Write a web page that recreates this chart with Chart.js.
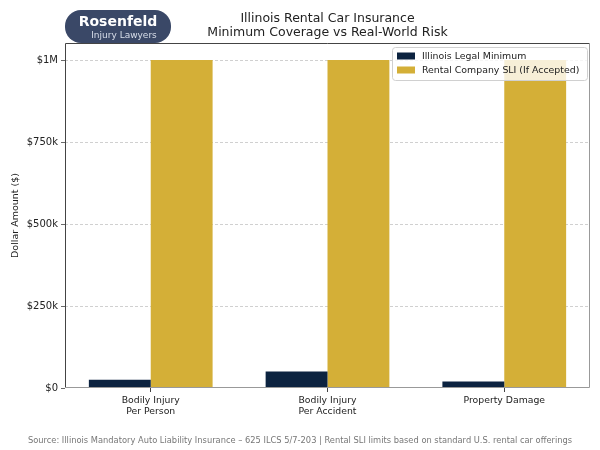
<!DOCTYPE html>
<html>
<head>
<meta charset="utf-8">
<script src="https://cdn.jsdelivr.net/npm/chart.js@4"></script>
<style>
  html, body { margin: 0; padding: 0; background: #fff; }
  #wrap { width: 600px; height: 450px; position: relative; }
</style>
</head>
<body>
<div id="wrap"><canvas id="c" width="600" height="450"></canvas></div>
<script>
// ---- data ----
const categories = ['Bodily Injury\nPer Person', 'Bodily Injury\nPer Accident', 'Property Damage'];
const legalMinimum = [25000, 50000, 20000];
const rentalSLI = [1000000, 1000000, 1000000];
const seriesNames = ['Illinois Legal Minimum', 'Rental Company SLI (If Accepted)'];
const yTickValues = [0, 250000, 500000, 750000, 1000000];
const yTickLabels = ['$0', '$250k', '$500k', '$750k', '$1M'];
const titleLines = ['Illinois Rental Car Insurance', 'Minimum Coverage vs Real-World Risk'];
const yAxisTitle = 'Dollar Amount ($)';
const sourceText = 'Source: Illinois Mandatory Auto Liability Insurance \u2013 625 ILCS 5/7-203 | Rental SLI limits based on standard U.S. rental car offerings';
const logoTop = 'Rosenfeld';
const logoBottom = 'Injury Lawyers';

const NAVY = '#0c2340';
const GOLD = '#d4af37';
const FONT = "'DejaVu Sans', sans-serif";

function rr(ctx, x, y, w, h, r) {
  ctx.beginPath();
  ctx.moveTo(x + r, y);
  ctx.lineTo(x + w - r, y);
  ctx.arcTo(x + w, y, x + w, y + r, r);
  ctx.lineTo(x + w, y + h - r);
  ctx.arcTo(x + w, y + h, x + w - r, y + h, r);
  ctx.lineTo(x + r, y + h);
  ctx.arcTo(x, y + h, x, y + h - r, r);
  ctx.lineTo(x, y + r);
  ctx.arcTo(x, y, x + r, y, r);
  ctx.closePath();
}

const decorPlugin = {
  id: 'decor',
  afterDatasetsDraw(chart) {
    const ctx = chart.ctx;
    const a = chart.chartArea;
    ctx.save();
    // frame
    ctx.lineWidth = 1;
    ctx.strokeStyle = '#444';
    ctx.beginPath();
    ctx.moveTo(a.left + 0.5, a.bottom);
    ctx.lineTo(a.left + 0.5, a.top + 0.5);
    ctx.lineTo(a.right, a.top + 0.5);
    ctx.stroke();
    ctx.strokeStyle = '#999';
    ctx.beginPath();
    ctx.moveTo(a.right - 0.5, a.top);
    ctx.lineTo(a.right - 0.5, a.bottom - 0.5);
    ctx.lineTo(a.left, a.bottom - 0.5);
    ctx.stroke();

    // legend
    const lx = 392, ly = 47, lw = 195, lh = 33;
    rr(ctx, lx + 0.5, ly + 0.5, lw, lh, 3);
    ctx.fillStyle = 'rgba(255,255,255,0.8)';
    ctx.fill();
    ctx.strokeStyle = '#d0d0d0';
    ctx.stroke();
    ctx.font = '9.4px ' + FONT;
    ctx.textBaseline = 'middle';
    ctx.textAlign = 'left';
    chart.data.datasets.forEach((ds, i) => {
      const yy = 56 + i * 14;
      ctx.fillStyle = ds.backgroundColor;
      ctx.fillRect(397, yy - 3.5, 18, 7);
      ctx.fillStyle = '#222';
      ctx.fillText(ds.label, 422, yy + 0.5);
    });

    // title
    ctx.fillStyle = '#222';
    ctx.font = '12.5px ' + FONT;
    ctx.textAlign = 'center';
    const cx = (a.left + a.right) / 2;
    ctx.fillText(titleLines[0], cx, 19);
    ctx.fillText(titleLines[1], cx, 33);

    // logo
    rr(ctx, 65, 10, 106, 33, 16);
    ctx.fillStyle = '#3a4867';
    ctx.fill();
    ctx.fillStyle = '#ffffff';
    ctx.font = 'bold 14px ' + FONT;
    ctx.textAlign = 'center';
    ctx.fillText(logoTop, 118, 22);
    ctx.fillStyle = '#d8deea';
    ctx.font = '9px ' + FONT;
    ctx.fillText(logoBottom, 124, 35.5);

    // source
    ctx.fillStyle = '#777';
    ctx.font = '8.3px ' + FONT;
    ctx.fillText(sourceText, 300, 441);
    ctx.restore();
  }
};

const ctx = document.getElementById('c').getContext('2d');
new Chart(ctx, {
  type: 'bar',
  data: {
    datasets: [
      { label: seriesNames[0], data: legalMinimum.map((v, i) => ({ x: i, y: v })), backgroundColor: NAVY, borderWidth: 0 },
      { label: seriesNames[1], data: rentalSLI.map((v, i) => ({ x: i, y: v })), backgroundColor: GOLD, borderWidth: 0 }
    ]
  },
  plugins: [decorPlugin],
  options: {
    responsive: false,
    animation: false,
    devicePixelRatio: 1,
    categoryPercentage: 0.7,
    barPercentage: 1.0,
    layout: { padding: { left: 0, right: 10, top: 43, bottom: 0 } },
    plugins: { legend: { display: false }, tooltip: { enabled: false }, title: { display: false } },
    scales: {
      x: {
        type: 'linear',
        min: -0.485,
        max: 2.485,
        offset: false,
        afterBuildTicks(scale) { scale.ticks = categories.map((c, i) => ({ value: i })); },
        afterFit(scale) { scale.height = 62; },
        grid: { offset: false, drawOnChartArea: false, drawTicks: true, tickLength: 4, tickColor: '#444', tickWidth: 1 },
        border: { display: false },
        ticks: {
          autoSkip: false,
          maxRotation: 0,
          padding: 3,
          color: '#222',
          font: { family: FONT, size: 9.3 },
          callback: (v, i) => categories[i].split('\n')
        }
      },
      y: {
        min: 0,
        max: 1052000,
        afterBuildTicks(scale) { scale.ticks = yTickValues.map(v => ({ value: v })); },
        afterFit(scale) { scale.width = 65; },
        grid: {
          drawOnChartArea: true,
          drawTicks: true,
          tickLength: 4,
          tickColor: '#444',
          color: (c) => (c.tick && c.tick.value === 0) ? 'rgba(0,0,0,0)' : '#c4c4c4',
          lineWidth: 0.8
        },
        border: { display: false, dash: [3, 2] },
        ticks: {
          padding: 3,
          color: '#222',
          font: { family: FONT, size: 10 },
          callback: (v, i) => yTickLabels[i]
        },
        title: {
          display: true,
          text: yAxisTitle,
          color: '#222',
          font: { family: FONT, size: 9.5 },
          padding: { top: 10, bottom: 0 }
        }
      }
    }
  }
});
</script>
</body>
</html>
